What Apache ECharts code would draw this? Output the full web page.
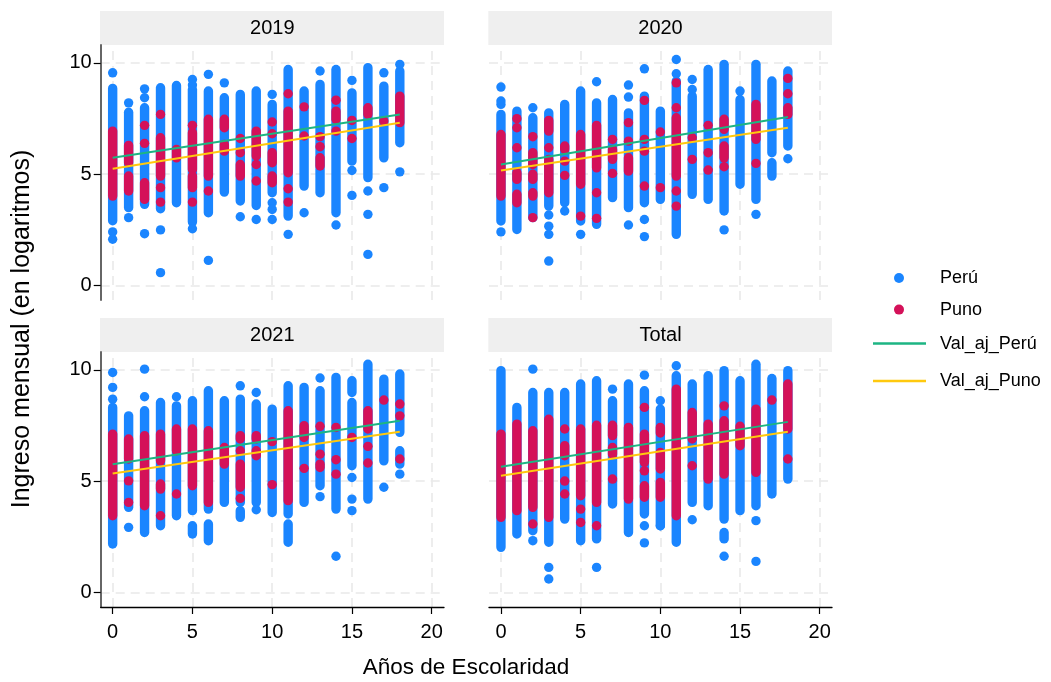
<!DOCTYPE html>
<html><head><meta charset="utf-8">
<script src="https://cdn.jsdelivr.net/npm/echarts@6/dist/echarts.min.js"></script>
<style>html,body{margin:0;padding:0;background:#fff}#c{width:1051px;height:682px}</style>
</head><body><div id="c"></div>
<script>
// ---------- DATA ----------
const panelNames = ['2019', '2020', '2021', 'Total'];
const xTicks = [0, 5, 10, 15, 20];
const yTicks = [0, 5, 10];
const legendPoints = ['Perú', 'Puno'];
const legendLines = ['Val_aj_Perú', 'Val_aj_Puno'];
const xTitle = 'Años de Escolaridad';
const yTitle = 'Ingreso mensual (en logaritmos)';

// dense columns of points: [años, min, max]; isolated points: [años, valor]
const peru2019Seg = [[0,2.9,8.85],[1,3.49,7.78],[2,3.64,7.98],[3,3.44,8.88],[4,3.71,8.98],[5,2.84,8.8],[6,3.26,8.73],[7,4.19,8.43],[8,3.79,8.58],[9,3.59,8.73],[10,4.16,8.13],[11,3.11,9.7],[12,4.46,8.73],[13,4.16,9.03],[14,3.26,9.7],[15,5.58,8.65],[16,4.84,9.78],[17,5.73,8.95],[18,6.41,9.63]];
const peru2019Pts = [[0,9.55],[0,2.4],[0,2.07],[1,8.2],[1,3.04],[2,8.83],[2,8.43],[2,2.32],[3,2.49],[3,0.57],[5,9.25],[5,9.0],[5,2.54],[6,9.48],[6,1.12],[7,9.1],[8,3.08],[9,2.96],[10,8.58],[10,3.71],[10,3.41],[10,2.96],[11,2.29],[12,3.26],[13,9.63],[14,2.71],[15,9.21],[15,5.16],[15,4.04],[16,4.24],[16,3.19],[16,1.39],[17,9.55],[17,4.39],[18,9.93],[18,5.1]];
const puno2019Seg = [[0,4.01,6.93],[1,5.51,6.29],[1,4.24,4.91],[2,3.86,4.61],[3,4.91,6.63],[4,5.73,6.11],[5,5.21,6.86],[5,4.39,4.91],[6,4.91,7.46],[7,7.08,7.46],[7,6.03,6.33],[8,4.91,5.43],[9,5.81,6.93],[10,5.51,5.96],[10,4.61,4.91],[11,5.06,7.83],[13,5.36,5.73],[14,7.46,7.83],[16,7.68,7.98],[18,7.31,8.5]];
const puno2019Pts = [[2,7.19],[2,6.38],[3,7.68],[3,4.39],[3,3.74],[5,7.19],[5,3.74],[6,4.24],[8,6.6],[8,5.96],[9,5.43],[9,4.69],[10,7.34],[10,6.81],[11,8.61],[11,4.34],[11,3.74],[12,8.02],[12,6.71],[13,6.68],[13,6.23],[14,8.32],[14,6.93],[15,7.41],[15,6.6],[17,7.38]];
const fitPeru2019 = [[0,5.73],[18,7.68]];
const fitPuno2019 = [[0,5.24],[18,7.31]];

const peru2020Seg = [[0,2.89,7.68],[1,2.51,7.83],[2,3.04,7.53],[3,3.56,7.75],[4,3.71,8.13],[5,2.89,8.73],[6,2.74,8.2],[7,3.94,8.35],[8,3.49,7.75],[9,3.71,8.5],[10,3.86,7.83],[11,2.29,9.18],[12,4.09,8.5],[13,3.86,9.7],[14,3.34,9.93],[15,4.54,8.35],[16,3.86,9.93],[17,5.96,9.18],[17,4.91,5.51],[18,6.26,9.63]];
const peru2020Pts = [[0,8.91],[0,8.28],[0,8.13],[0,2.4],[2,7.98],[3,3.16],[3,2.66],[3,2.29],[3,1.09],[4,3.34],[5,2.29],[6,9.15],[8,9.0],[8,8.46],[8,2.71],[9,9.73],[9,2.96],[9,2.19],[11,10.15],[11,9.51],[12,9.25],[12,8.8],[14,2.49],[15,8.73],[16,3.19],[18,5.69]];
const puno2020Seg = [[0,4.01,6.78],[1,4.76,5.06],[1,3.71,4.09],[2,5.43,5.96],[2,4.76,4.99],[2,4.01,4.16],[3,6.93,7.41],[3,4.16,5.66],[4,6.11,6.26],[5,4.54,6.78],[6,5.28,7.19],[7,5.66,6.11],[8,5.13,5.73],[11,4.91,7.53],[14,7.01,7.46],[14,5.73,6.26],[16,6.56,8.13],[18,7.68,7.98]];
const puno2020Pts = [[1,7.49],[1,7.08],[1,6.18],[2,6.68],[2,3.04],[3,6.18],[4,5.58],[4,4.94],[5,3.11],[6,4.16],[6,3.01],[7,6.56],[7,5.03],[8,7.31],[8,6.48],[9,8.31],[9,6.56],[9,6.03],[9,4.46],[10,6.89],[10,4.39],[11,9.1],[11,7.98],[11,4.24],[11,3.56],[12,6.63],[12,5.66],[13,7.19],[13,5.96],[13,5.18],[14,5.33],[16,5.48],[18,9.3],[18,8.61]];
const fitPeru2020 = [[0,5.43],[18,7.56]];
const fitPuno2020 = [[0,5.16],[18,7.08]];

const peru2021Seg = [[0,2.17,8.31],[1,3.82,7.93],[2,2.69,8.16],[3,2.99,8.53],[4,3.44,8.38],[5,3.67,8.61],[5,2.62,2.99],[6,3.74,9.06],[6,2.32,3.07],[7,4.04,8.61],[8,4.04,8.68],[8,3.37,3.67],[9,4.04,8.46],[10,3.59,8.23],[11,3.52,9.28],[11,2.25,3.07],[12,4.04,9.21],[13,4.79,9.06],[14,3.74,9.66],[15,8.98,9.51],[15,5.69,8.53],[16,4.19,10.25],[17,5.91,9.58],[18,7.19,9.81],[18,5.76,6.36]];
const peru2021Pts = [[0,9.88],[0,9.21],[0,8.68],[1,2.92],[2,10.03],[2,8.79],[4,8.79],[8,9.28],[9,8.98],[9,3.71],[13,9.63],[13,4.3],[14,1.62],[15,5.16],[15,4.19],[15,3.67],[17,4.72],[18,5.31]];
const puno2021Seg = [[0,3.44,7.11],[1,5.99,6.89],[2,3.89,7.04],[3,5.91,7.11],[3,4.64,4.87],[4,6.36,7.34],[5,4.79,7.34],[6,4.04,7.26],[7,5.76,6.51],[8,6.89,7.04],[8,4.72,5.76],[9,6.89,7.04],[9,6.14,6.36],[11,4.12,8.16],[12,6.96,7.49],[13,5.61,5.76],[16,7.34,8.16]];
const puno2021Pts = [[1,5.01],[1,4.04],[3,3.44],[4,4.42],[8,6.36],[8,4.22],[10,6.77],[10,4.84],[12,5.57],[13,7.46],[13,6.21],[14,7.41],[14,5.96],[14,5.31],[15,6.96],[16,6.56],[16,5.81],[17,8.64],[18,8.46],[18,7.93],[18,5.99]];
const fitPeru2021 = [[0,5.76],[18,7.71]];
const fitPuno2021 = [[0,5.34],[18,7.22]];

const peruTotalSeg = [[0,2.02,9.96],[1,2.62,8.31],[2,2.77,8.98],[3,2.25,8.98],[4,3.29,8.98],[5,2.32,9.36],[6,2.4,9.51],[7,3.97,8.61],[8,2.69,9.36],[9,3.52,9.06],[10,2.99,8.23],[11,2.25,9.73],[12,4.04,9.36],[13,3.89,9.73],[14,3.29,9.96],[14,2.4,2.69],[15,3.67,9.51],[16,3.89,10.25],[17,4.42,9.61],[18,5.09,9.96]];
const peruTotalPts = [[2,10.03],[2,2.32],[3,1.12],[3,0.6],[6,1.12],[7,9.13],[9,9.76],[9,2.99],[9,2.22],[10,8.61],[10,2.99],[11,10.18],[12,3.26],[14,1.62],[16,3.22],[16,1.39]];
const punoTotalSeg = [[0,3.37,7.11],[1,3.67,7.56],[2,3.82,7.26],[3,3.37,7.78],[4,6.14,6.59],[5,4.34,7.34],[6,4.04,7.51],[7,7.04,7.51],[7,6.21,6.51],[8,4.19,7.41],[9,5.84,7.11],[9,4.27,4.79],[10,7.16,7.41],[10,5.54,6.29],[10,4.27,4.94],[11,3.44,9.13],[12,6.89,8.08],[13,5.09,7.56],[14,5.31,7.71],[15,6.59,7.46],[16,5.39,8.23],[18,7.34,9.36]];
const punoTotalPts = [[2,3.07],[4,7.34],[4,5.0],[4,4.42],[5,3.74],[5,3.14],[6,2.99],[7,5.09],[9,8.31],[9,5.46],[12,5.69],[14,8.38],[17,8.64],[18,5.99]];
const fitPeruTotal = [[0,5.64],[18,7.66]];
const fitPunoTotal = [[0,5.24],[18,7.22]];

// ---------- CHART ----------
const panelData = [
  {peruSeg: peru2019Seg, peruPts: peru2019Pts, punoSeg: puno2019Seg, punoPts: puno2019Pts, fitPeru: fitPeru2019, fitPuno: fitPuno2019},
  {peruSeg: peru2020Seg, peruPts: peru2020Pts, punoSeg: puno2020Seg, punoPts: puno2020Pts, fitPeru: fitPeru2020, fitPuno: fitPuno2020},
  {peruSeg: peru2021Seg, peruPts: peru2021Pts, punoSeg: puno2021Seg, punoPts: puno2021Pts, fitPeru: fitPeru2021, fitPuno: fitPuno2021},
  {peruSeg: peruTotalSeg, peruPts: peruTotalPts, punoSeg: punoTotalSeg, punoPts: punoTotalPts, fitPeru: fitPeruTotal, fitPuno: fitPunoTotal}
];
const C = {peru: '#1a85ff', puno: '#d41159', fitPeru: '#1db583', fitPuno: '#ffc90e', grid: '#e9e9e9', strip: '#efefef'};
const FONT = "'Liberation Sans', Arial, Helvetica, sans-serif";
const gridBoxes = [
  {left: 100.7, top: 45, width: 343.3, height: 255},
  {left: 489, top: 45, width: 343, height: 255},
  {left: 100.7, top: 352, width: 343.3, height: 255},
  {left: 489, top: 352, width: 343, height: 255}
];
const DOT = 9.4;

function capsule(params, api) {
  const x = api.value(0), lo = api.value(1), hi = api.value(2);
  const a = api.coord([x, hi]), b = api.coord([x, lo]);
  const r = DOT / 2;
  return {type: 'rect', shape: {x: a[0] - r, y: a[1] - r, width: 2 * r, height: b[1] - a[1] + 2 * r, r: r},
          style: {fill: api.visual('color')}};
}

const grid = [], xAxis = [], yAxis = [], series = [], graphic = [];
gridBoxes.forEach((g, i) => {
  grid.push(Object.assign({containLabel: false}, g));
  const showX = i >= 2, showY = i % 2 === 0;
  xAxis.push({gridIndex: i, type: 'value', min: -0.75, max: 20.77,
    axisLine: {show: showX, onZero: false, lineStyle: {color: '#000', width: 1.3}},
    axisTick: {show: showX, customValues: xTicks, length: 7, lineStyle: {color: '#000', width: 1.2}},
    axisLabel: {show: showX, customValues: xTicks, margin: 15, fontSize: 20, color: '#000', fontFamily: FONT},
    splitLine: {show: false}});
  yAxis.push({gridIndex: i, type: 'value', min: -0.66, max: 10.8,
    axisLine: {show: showY, onZero: false, lineStyle: {color: '#666', width: 2}},
    axisTick: {show: showY, customValues: yTicks, length: 7, lineStyle: {color: '#000', width: 1.2}},
    axisLabel: {show: showY, customValues: yTicks, margin: 9, fontSize: 20, color: '#000', fontFamily: FONT},
    splitLine: {show: false}});
  const d = panelData[i];
  series.push({name: 'grid' + i, type: 'line', xAxisIndex: i, yAxisIndex: i, data: [], z: 1, zlevel: 0, silent: true,
    markLine: {silent: true, z: 0, zlevel: 0, symbol: ['none', 'none'], label: {show: false}, animation: false,
      lineStyle: {color: C.grid, type: [9, 6], width: 1.6},
      emphasis: {disabled: true},
      data: xTicks.map(v => ({xAxis: v})).concat(yTicks.map(v => ({yAxis: v})))}});
  series.push({name: 'Perú', type: 'custom', xAxisIndex: i, yAxisIndex: i, renderItem: capsule, zlevel: 1,
    encode: {x: 0, y: [1, 2]}, data: d.peruSeg, itemStyle: {color: C.peru}, z: 2, silent: true});
  series.push({name: 'Perú', type: 'scatter', xAxisIndex: i, yAxisIndex: i, data: d.peruPts, zlevel: 1,
    symbolSize: DOT, itemStyle: {color: C.peru, opacity: 1}, z: 3, silent: true});
  series.push({name: 'Puno', type: 'custom', xAxisIndex: i, yAxisIndex: i, renderItem: capsule, zlevel: 1,
    encode: {x: 0, y: [1, 2]}, data: d.punoSeg, itemStyle: {color: C.puno}, z: 4, silent: true});
  series.push({name: 'Puno', type: 'scatter', xAxisIndex: i, yAxisIndex: i, data: d.punoPts, zlevel: 1,
    symbolSize: DOT, itemStyle: {color: C.puno, opacity: 1}, z: 5, silent: true});
  series.push({name: 'Val_aj_Perú', type: 'line', xAxisIndex: i, yAxisIndex: i, data: d.fitPeru, zlevel: 1,
    showSymbol: false, symbol: 'none', lineStyle: {color: C.fitPeru, width: 2}, itemStyle: {color: C.fitPeru}, z: 6, silent: true});
  series.push({name: 'Val_aj_Puno', type: 'line', xAxisIndex: i, yAxisIndex: i, data: d.fitPuno, zlevel: 1,
    showSymbol: false, symbol: 'none', lineStyle: {color: C.fitPuno, width: 2}, itemStyle: {color: C.fitPuno}, z: 7, silent: true});
  // facet strip
  graphic.push({type: 'rect', left: g.left - 0.7, top: g.top - 34, shape: {width: g.width + 0.7, height: 34},
    style: {fill: C.strip}, silent: true, z: 0});
  graphic.push({type: 'text', x: g.left + g.width / 2, y: g.top - 17,
    style: {text: panelNames[i], fill: '#000', font: '20px ' + FONT, textAlign: 'center', textVerticalAlign: 'middle'}, silent: true});
});
graphic.push({type: 'text', x: 466, y: 668,
  style: {text: xTitle, fill: '#000', font: '22.5px ' + FONT, textAlign: 'center', textVerticalAlign: 'middle'}, silent: true});
graphic.push({type: 'text', x: 22, y: 329, rotation: Math.PI / 2,
  style: {text: yTitle, fill: '#000', font: '25px ' + FONT, textAlign: 'center', textVerticalAlign: 'middle'}, silent: true});

const option = {
  animation: false,
  backgroundColor: '#fff',
  grid, xAxis, yAxis, series, graphic,
  legend: [
    {orient: 'vertical', left: 889, top: 263, itemWidth: 10, itemHeight: 10, itemGap: 11.6, icon: 'circle',
     selectedMode: false, data: legendPoints,
     textStyle: {fontSize: 18, fontFamily: FONT, color: '#000', lineHeight: 20, padding: [0, 0, 0, 31]}},
    {orient: 'vertical', left: 868, top: 328.6, itemWidth: 53, itemHeight: 2.5, itemGap: 17.4, icon: 'rect',
     selectedMode: false, data: legendLines,
     textStyle: {fontSize: 18, fontFamily: FONT, color: '#000', lineHeight: 20, padding: [0, 0, 0, 9]}}
  ]
};
const chart = echarts.init(document.getElementById('c'), null, {renderer: 'canvas'});
chart.setOption(option);
</script></body></html>
